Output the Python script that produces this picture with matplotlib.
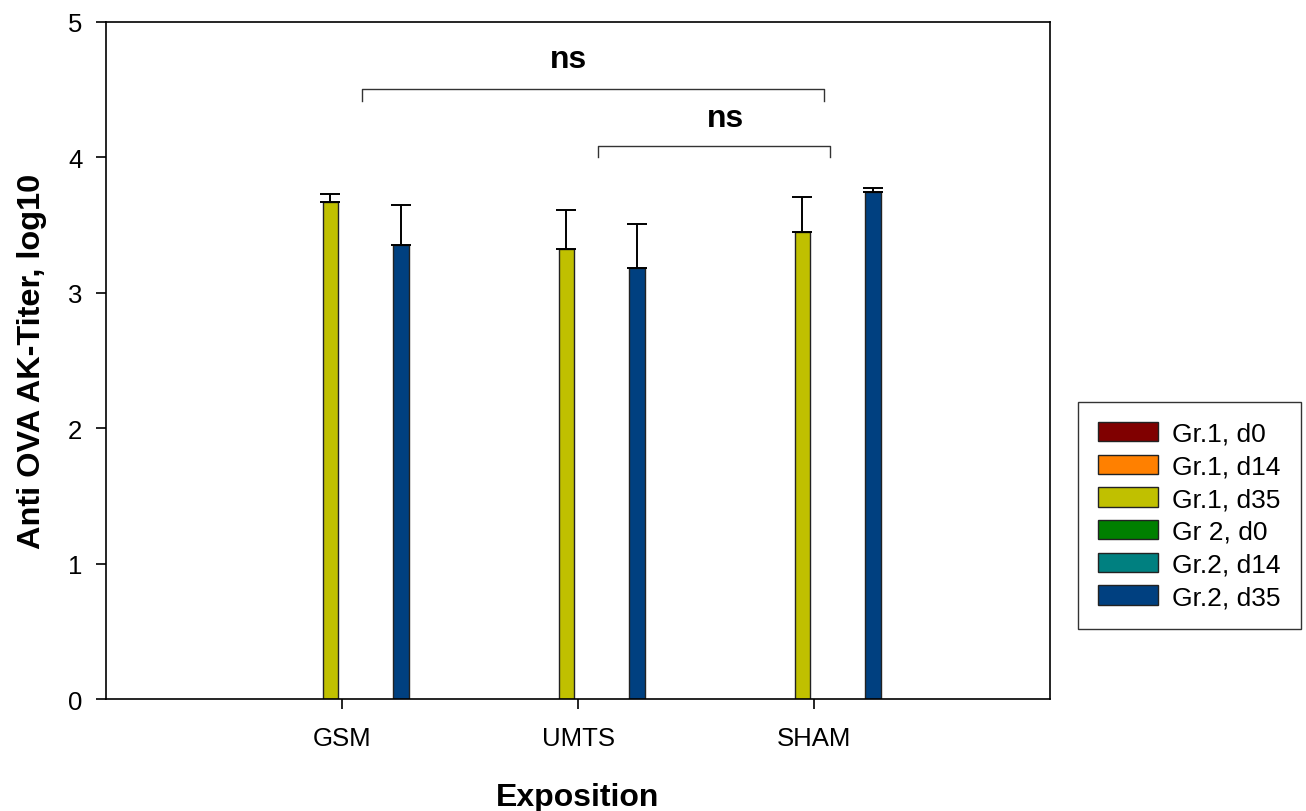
import numpy as np
import matplotlib
matplotlib.use("Agg")
import matplotlib.pyplot as plt
from matplotlib.patches import Patch

plt.rcParams['font.family'] = ['Liberation Sans', 'DejaVu Sans']

# Exposure groups on the x axis
categories = ["GSM", "UMTS", "SHAM"]

# Series (group / day) and their fill colours
series_names = ["Gr.1, d0", "Gr.1, d14", "Gr.1, d35", "Gr 2, d0", "Gr.2, d14", "Gr.2, d35"]
series_colors = ["#800000", "#FF8000", "#C0C000", "#008000", "#008080", "#004080"]

# Mean anti-OVA antibody titers (log10); NaN = not measured
gr1_d0 = [np.nan, np.nan, np.nan]
gr1_d14 = [np.nan, np.nan, np.nan]
gr1_d35 = [3.67, 3.32, 3.45]
gr2_d0 = [np.nan, np.nan, np.nan]
gr2_d14 = [np.nan, np.nan, np.nan]
gr2_d35 = [3.35, 3.18, 3.74]

# Upper error (SD)
gr1_d35_err = [0.06, 0.29, 0.26]
gr2_d35_err = [0.30, 0.33, 0.035]

values = [gr1_d0, gr1_d14, gr1_d35, gr2_d0, gr2_d14, gr2_d35]
errors = [None, None, gr1_d35_err, None, None, gr2_d35_err]

fig = plt.figure(figsize=(13.06, 8.12), dpi=100)
ax = fig.add_axes([0.0812, 0.1376, 0.8040 - 0.0812, 0.972 - 0.1376])

x = np.arange(1, len(categories) + 1)
slot = 0.1
width = 0.065
n = len(values)
for i, (vals, err, col) in enumerate(zip(values, errors, series_colors)):
    pos = x + (i - (n - 1) / 2) * slot
    vals = np.asarray(vals, dtype=float)
    ax.bar(pos, vals, width=width, color=col, edgecolor="#222222",
           linewidth=1.0, zorder=2)
    if err is not None:
        ax.errorbar(pos, vals, yerr=[np.zeros(len(err)), err], fmt="none",
                    ecolor="black", elinewidth=1.4, capsize=7.5,
                    capthick=1.4, zorder=3)

ax.set_xlim(0, 4)
ax.set_ylim(0, 5)
ax.set_xticks(x)
ax.set_xticklabels(categories)
ax.set_yticks(range(6))
ax.tick_params(axis="both", direction="out", length=7, width=1.2,
               labelsize=18.5, colors="black")
ax.tick_params(axis="x", pad=12)
ax.tick_params(axis="y", pad=10)
for sp in ax.spines.values():
    sp.set_linewidth(1.2)
    sp.set_color("black")

ax.set_xlabel("Exposition", fontsize=23, fontweight="bold", labelpad=23)
ax.set_ylabel("Anti OVA AK-Titer, log10", fontsize=23.4, fontweight="bold", labelpad=15)


# Significance bracket with a bold label above it
def annotate(x0, x1, y, drop, label, tx, ty):
    ax.plot([x0, x0, x1, x1], [y - drop, y, y, y - drop], color="#333333",
            linewidth=1.0, zorder=4, clip_on=False)
    ax.text(tx, ty, label, ha="center", va="baseline", fontsize=23,
            fontweight="bold")


annotate(1.085, 3.041, 4.504, 0.086, "ns", 1.959, 4.664)
annotate(2.086, 3.067, 4.081, 0.079, "ns", 2.626, 4.233)

handles = [Patch(facecolor=c, edgecolor="#222222", linewidth=1.0) for c in series_colors]
leg = fig.legend(handles, series_names, loc="upper left",
                 bbox_to_anchor=(1078 / 1306, 1 - 403 / 812),
                 fontsize=19, frameon=True, fancybox=False, shadow=False,
                 handlelength=2.27, handleheight=0.76, handletextpad=0.55,
                 labelspacing=0.33, borderpad=0.75, borderaxespad=0.0)
leg.get_frame().set_edgecolor("black")
leg.get_frame().set_linewidth(1.0)

fig.savefig("out.png", dpi=100)
